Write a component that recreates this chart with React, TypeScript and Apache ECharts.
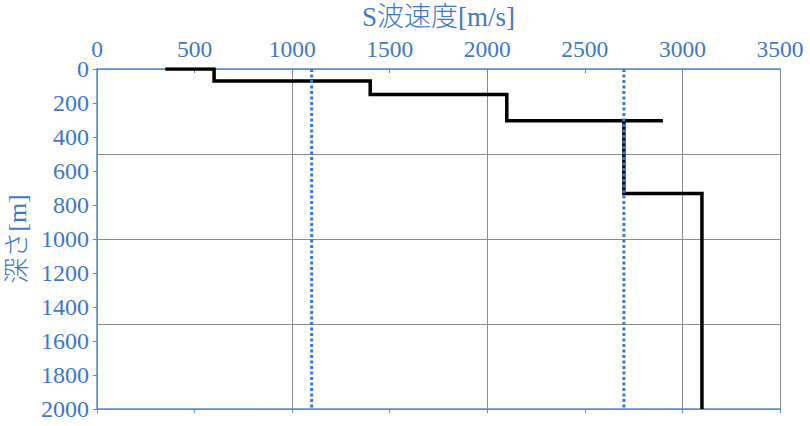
import React, { useEffect, useRef } from "react";
import * as echarts from "echarts";

const velocityProfile: [number, number][] = [
  [350, 0], [600, 0], [600, 70], [1400, 70], [1400, 150], [2100, 150],
  [2100, 305], [2900, 305], [2700, 305], [2700, 732], [3100, 732], [3100, 2000],
];
const refLineA: [number, number][] = [[1100, 0], [1100, 2000]];
const refLineB: [number, number][] = [[2700, 0], [2700, 2000]];

const xMin = 0, xMax = 3500, xLabelStep = 500, xGridStep = 1000;
const yMin = 0, yMax = 2000, yLabelStep = 200, yGridStep = 500;

const BLUE = "#3f77c8";
const AXIS_BLUE = "#5a8ad0";
const GRID = "#8c8c8c";
const SERIF = "'Liberation Serif', 'Noto Sans CJK JP', serif";
const plain = (v: number) => String(v);

export default function App() {
  const ref = useRef<HTMLDivElement>(null);
  useEffect(() => {
    document.body.style.margin = "0";
    const chart = echarts.init(ref.current!, undefined, { renderer: "svg" });
    chart.setOption({
      animation: false,
      backgroundColor: "#ffffff",
      grid: { left: 97, right: 30, top: 69, bottom: 17, containLabel: false, outerBoundsMode: "none" },
      xAxis: [
        {
          type: "value", position: "top", min: xMin, max: xMax, interval: xLabelStep,
          name: "S波速度[m/s]", nameLocation: "middle", nameGap: 39,
          nameTextStyle: { color: BLUE, fontSize: 27, fontFamily: SERIF, fontWeight: 300 },
          axisLine: { show: true, lineStyle: { color: AXIS_BLUE, width: 1.5 } },
          axisTick: { show: true, inside: true, length: 4, lineStyle: { color: AXIS_BLUE } },
          axisLabel: { color: BLUE, fontSize: 23.5, fontFamily: SERIF, margin: 8, formatter: plain },
          splitLine: { show: false },
        },
        {
          type: "value", position: "bottom", min: xMin, max: xMax, interval: xLabelStep,
          axisLine: { show: true, onZero: false, lineStyle: { color: AXIS_BLUE, width: 1.5 } },
          axisTick: { show: true, length: 4, lineStyle: { color: AXIS_BLUE } },
          axisLabel: { show: false },
          splitLine: { show: false },
        },
        {
          type: "value", position: "bottom", min: xMin, max: xMax, interval: xGridStep,
          axisLine: { show: false }, axisTick: { show: false }, axisLabel: { show: false },
          splitLine: { show: true, lineStyle: { color: GRID, width: 1 } },
        },
      ],
      yAxis: [
        {
          type: "value", inverse: true, position: "left", min: yMin, max: yMax, interval: yLabelStep,
          name: "深さ[m]", nameLocation: "middle", nameGap: 67, nameRotate: 90,
          nameTextStyle: { color: BLUE, fontSize: 26, fontFamily: SERIF, fontWeight: 300 },
          axisLine: { show: true, onZero: false, lineStyle: { color: AXIS_BLUE, width: 1.5 } },
          axisTick: { show: true, length: 4, lineStyle: { color: AXIS_BLUE } },
          axisLabel: { color: BLUE, fontSize: 24, fontFamily: SERIF, margin: 8, formatter: plain },
          splitLine: { show: false },
        },
        {
          type: "value", inverse: true, position: "right", min: yMin, max: yMax, interval: yGridStep,
          axisLine: { show: false }, axisTick: { show: false }, axisLabel: { show: false },
          splitLine: { show: true, lineStyle: { color: GRID, width: 1 } },
        },
      ],
      series: [
        {
          type: "line", xAxisIndex: 0, yAxisIndex: 0, data: velocityProfile,
          showSymbol: false, symbol: "none",
          lineStyle: { color: "#000000", width: 3.5, join: "miter", cap: "butt" },
          z: 3,
        },
        {
          type: "line", xAxisIndex: 0, yAxisIndex: 0, data: refLineA,
          symbol: "none", lineStyle: { color: "#3a78d4", width: 3, type: [3, 2.5] }, z: 4,
        },
        {
          type: "line", xAxisIndex: 0, yAxisIndex: 0, data: refLineB,
          symbol: "none", lineStyle: { color: "#3a78d4", width: 3, type: [3, 2.5] }, z: 4,
        },
      ],
    });
    return () => chart.dispose();
  }, []);
  return <div ref={ref} style={{ position: "fixed", left: 0, top: 0, width: 810, height: 426 }} />;
}
